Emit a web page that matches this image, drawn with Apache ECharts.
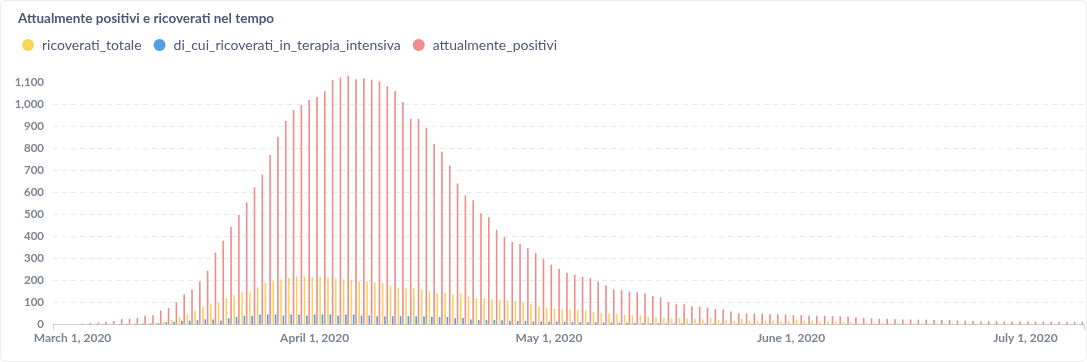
<!DOCTYPE html>
<html>
<head>
<meta charset="utf-8">
<script src="https://cdn.jsdelivr.net/npm/echarts@6/dist/echarts.min.js"></script>
<style>
  html, body { margin: 0; padding: 0; background: #ffffff; }
  #card { position: absolute; left: 0; top: 0; width: 1085px; height: 360px; border: 1px solid #ecedef; border-radius: 6px; background: #fff; }
  #chart { position: absolute; left: 0; top: 0; width: 1087px; height: 362px; }
</style>
</head>
<body>
<div id="card"></div>
<div id="chart"></div>
<script>
// Period covered: 2020-02-28 .. 2020-07-08 (one bar group per day)
const startDate = '2020-02-28';
const dayCount = 132;

const ricoverati_totale = [
  0, 0, 0,
  0, 0, 1, 1, 1, 2, 2, 2, 3, 5,
  8, 13, 20, 36, 46, 62, 80, 93, 103, 120,
  133, 147, 146, 168, 191, 197, 205, 212, 218, 219,
  215, 218, 214, 208, 205, 203, 196, 196, 191, 189,
  178, 167, 164, 165, 159, 151, 143, 143, 136, 142,
  128, 119, 119, 114, 114, 109, 107, 98, 92, 83,
  75, 73, 71, 68, 66, 64, 56, 52, 50, 48,
  44, 41, 42, 36, 32, 30, 28, 29, 27, 26,
  24, 29, 20, 20, 17, 26, 17, 17, 17, 18,
  14, 17, 22, 17, 17, 13, 14, 14, 13, 11,
  8, 9, 8, 8, 7, 7, 6, 6, 6, 5,
  5, 5, 5, 4, 4, 4, 4, 3, 3, 3,
  3, 3, 3, 3, 2, 2, 2, 2, 2
];

const di_cui_ricoverati_in_terapia_intensiva = [
  0, 0, 0,
  1, 1, 1, 2, 2, 2, 3, 3, 4, 5,
  7, 11, 13, 17, 17, 20, 24, 23, 18, 28,
  35, 40, 40, 45, 46, 46, 41, 46, 46, 41,
  46, 46, 46, 41, 46, 46, 41, 41, 38, 38,
  38, 38, 38, 37, 38, 35, 34, 34, 29, 29,
  23, 20, 20, 20, 19, 17, 16, 16, 14, 14,
  13, 13, 12, 11, 11, 10, 10, 9, 9, 8,
  8, 7, 7, 6, 6, 5, 5, 5, 4, 4,
  4, 3, 3, 3, 3, 2, 2, 2, 2, 2,
  2, 1, 1, 1, 1, 1, 1, 1, 1, 1,
  1, 1, 1, 1, 1, 0, 0, 0, 0, 0,
  0, 0, 0, 0, 0, 0, 0, 0, 0, 0,
  0, 0, 0, 0, 0, 0, 0, 0, 0
];

const attualmente_positivi = [
  0, 0, 0,
  4, 7, 9, 12, 16, 24, 26, 30, 40, 42,
  63, 75, 102, 137, 159, 196, 245, 327, 381, 444,
  498, 555, 624, 682, 771, 853, 925, 975, 998, 1020,
  1035, 1060, 1110, 1123, 1131, 1115, 1119, 1113, 1105, 1083,
  1061, 1011, 935, 935, 894, 821, 785, 722, 641, 587,
  565, 506, 488, 430, 397, 375, 366, 348, 325, 299,
  272, 253, 235, 226, 217, 212, 196, 178, 160, 156,
  150, 146, 141, 130, 123, 103, 92, 92, 83, 82,
  77, 70, 68, 59, 50, 50, 50, 49, 47, 47,
  46, 43, 43, 40, 40, 40, 38, 37, 36, 33,
  30, 29, 26, 26, 24, 23, 23, 22, 22, 21,
  20, 20, 18, 17, 16, 15, 15, 15, 14, 14,
  14, 14, 13, 13, 13, 13, 12, 12, 12
];

const yTicks = [0, 100, 200, 300, 400, 500, 600, 700, 800, 900, 1000, 1100];
const monthNames = ['January','February','March','April','May','June','July','August','September','October','November','December'];

// build the list of dates
const dates = [];
{
  const d0 = new Date(startDate + 'T00:00:00Z');
  for (let i = 0; i < dayCount; i++) {
    const d = new Date(d0.getTime() + i * 86400000);
    dates.push(d.toISOString().slice(0, 10));
  }
}

function fmtDate(s) {
  const [y, m, d] = s.split('-').map(Number);
  return monthNames[m - 1] + ' ' + d + ', ' + y;
}

const FONT = 'Lato, "Open Sans", sans-serif';
const chart = echarts.init(document.getElementById('chart'), null, { renderer: 'canvas' });

chart.setOption({
  animation: false,
  backgroundColor: 'transparent',
  title: {
    text: 'Attualmente positivi e ricoverati nel tempo',
    left: 13, top: 5,
    textStyle: { fontFamily: FONT, fontSize: 13.5, fontWeight: 700, color: '#4C5773', lineHeight: 17 }
  },
  legend: {
    left: 17, top: 33,
    icon: 'circle',
    itemWidth: 12, itemHeight: 12,
    itemGap: 12,
    textStyle: { fontFamily: FONT, fontSize: 14, color: '#4C5773', padding: [0, 0, 0, 3] },
    data: ['ricoverati_totale', 'di_cui_ricoverati_in_terapia_intensiva', 'attualmente_positivi']
  },
  grid: { left: 53, right: 3, top: 82.5, bottom: 37.5, containLabel: false },
  xAxis: {
    type: 'category',
    data: dates,
    boundaryGap: true,
    axisLine: { show: true, lineStyle: { color: '#C9CED3', width: 1 } },
    axisTick: { show: true, length: 5, interval: function (idx) { return idx === 0; }, lineStyle: { color: '#C9CED3' } },
    axisLabel: {
      interval: function (idx, value) { return value.slice(8) === '01'; },
      formatter: fmtDate,
      fontFamily: FONT, fontSize: 12, fontWeight: 700, color: '#7C8391',
      margin: 8
    },
    splitLine: { show: false }
  },
  yAxis: {
    type: 'value',
    min: yTicks[0],
    max: yTicks[yTicks.length - 1],
    interval: yTicks[1] - yTicks[0],
    axisLine: { show: false },
    axisTick: { show: false },
    axisLabel: {
      formatter: function (v) { return v.toLocaleString('en-US'); },
      fontFamily: FONT, fontSize: 11.5, fontWeight: 700, color: '#7C8391',
      margin: 9
    },
    splitLine: { show: true, showMaxLine: false, lineStyle: { color: '#E8EAED', type: [5, 4], width: 1 } }
  },
  series: [
    { name: 'ricoverati_totale', type: 'bar', data: ricoverati_totale, clip: false,
      itemStyle: { color: '#F9D45C' }, barGap: '45%', barCategoryGap: '20%' },
    { name: 'di_cui_ricoverati_in_terapia_intensiva', type: 'bar', data: di_cui_ricoverati_in_terapia_intensiva, clip: false,
      itemStyle: { color: '#509EE3' }, barGap: '45%', barCategoryGap: '20%' },
    { name: 'attualmente_positivi', type: 'bar', data: attualmente_positivi, clip: false,
      itemStyle: { color: '#EF8C8C' }, barGap: '45%', barCategoryGap: '20%' }
  ]
});
</script>
</body>
</html>
